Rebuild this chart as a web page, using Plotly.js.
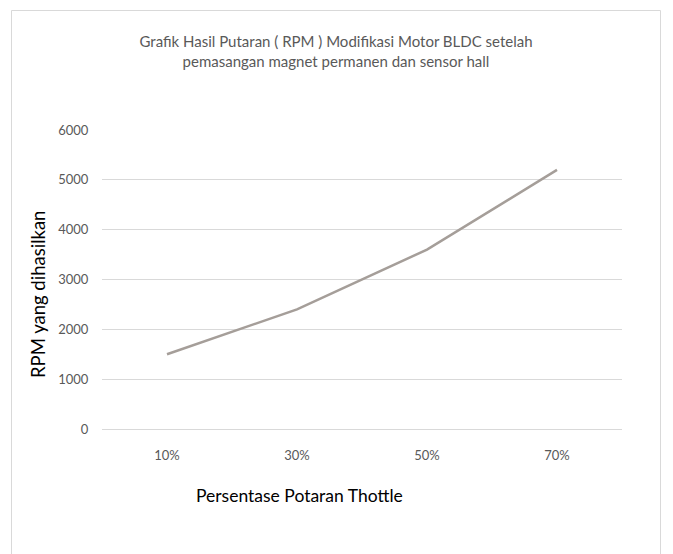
<!DOCTYPE html>
<html>
<head>
<meta charset="utf-8">
<script src="https://cdn.plot.ly/plotly-3.0.1.min.js"></script>
<style>
html,body{margin:0;padding:0;background:#fff;overflow:hidden;}
#chart{width:673px;height:554px;}
</style>
</head>
<body>
<div id="chart"></div>
<script>
const categories = ["10%", "30%", "50%", "70%"];
const rpmValues = [1500, 2400, 3600, 5200];
const yTicks = [0, 1000, 2000, 3000, 4000, 5000, 6000];

const chartTitle = "Grafik Hasil Putaran ( RPM ) Modifikasi Motor BLDC setelah<br>pemasangan magnet permanen dan sensor hall";
const xTitle = "Persentase Potaran Thottle";
const yTitle = "RPM yang dihasilkan";

const FONT = "Lato, 'Open Sans', sans-serif";

const trace = {
  type: "scatter",
  mode: "lines",
  x: categories,
  y: rpmValues,
  line: {color: "#a59e99", width: 2.5},
  hoverinfo: "x+y"
};

const L = 102, R = 622, T = 130, B = 429, W = 673, H = 554;
const pw = R - L, ph = B - T;
function px(x){ return (x - L) / pw; }
function py(y){ return (B - y) / ph; }

const layout = {
  width: W, height: H,
  margin: {l: L, r: W - R, t: T, b: H - B, pad: 0},
  paper_bgcolor: "#ffffff",
  plot_bgcolor: "#ffffff",
  showlegend: false,
  font: {family: FONT, color: "#595959", size: 13},
  title: {
    text: chartTitle,
    font: {family: FONT, size: 15, color: "#595959", lineposition: "none"},
    x: 336 / W, xanchor: "center",
    y: 1 - 47 / H, yanchor: "top"
  },
  xaxis: {
    type: "category",
    range: [-0.5, 3.5],
    showgrid: false,
    zeroline: false,
    showline: false,
    ticks: "outside", ticklen: 14, tickcolor: "rgba(0,0,0,0)",
    tickfont: {family: FONT, size: 13, color: "#595959"},
    fixedrange: true
  },
  yaxis: {
    range: [0, 6000],
    tickvals: yTicks,
    ticktext: yTicks.map(String),
    showgrid: true,
    gridcolor: "#d9d9d9",
    gridwidth: 1,
    zeroline: true,
    zerolinecolor: "#d9d9d9",
    zerolinewidth: 1,
    showline: false,
    ticks: "outside", ticklen: 10, tickcolor: "rgba(0,0,0,0)",
    tickfont: {family: FONT, size: 13, color: "#595959"},
    fixedrange: true
  },
  annotations: [
    {
      text: xTitle, xref: "paper", yref: "paper",
      x: px(299), y: py(495), xanchor: "center", yanchor: "middle",
      showarrow: false,
      font: {family: FONT, size: 17.5, color: "#000000"}
    },
    {
      text: yTitle, xref: "paper", yref: "paper",
      x: px(38), y: py(295), xanchor: "center", yanchor: "middle",
      textangle: -90, showarrow: false,
      font: {family: FONT, size: 18.5, color: "#000000"}
    }
  ],
  shapes: [
    {
      type: "rect", xref: "paper", yref: "paper",
      x0: px(11.5), x1: px(660.5), y0: py(600), y1: py(10.5),
      line: {color: "#d9d9d9", width: 1}, fillcolor: "rgba(0,0,0,0)",
      layer: "below"
    }
  ]
};

Plotly.newPlot("chart", [trace], layout, {displayModeBar: false, staticPlot: true});
</script>
</body>
</html>
